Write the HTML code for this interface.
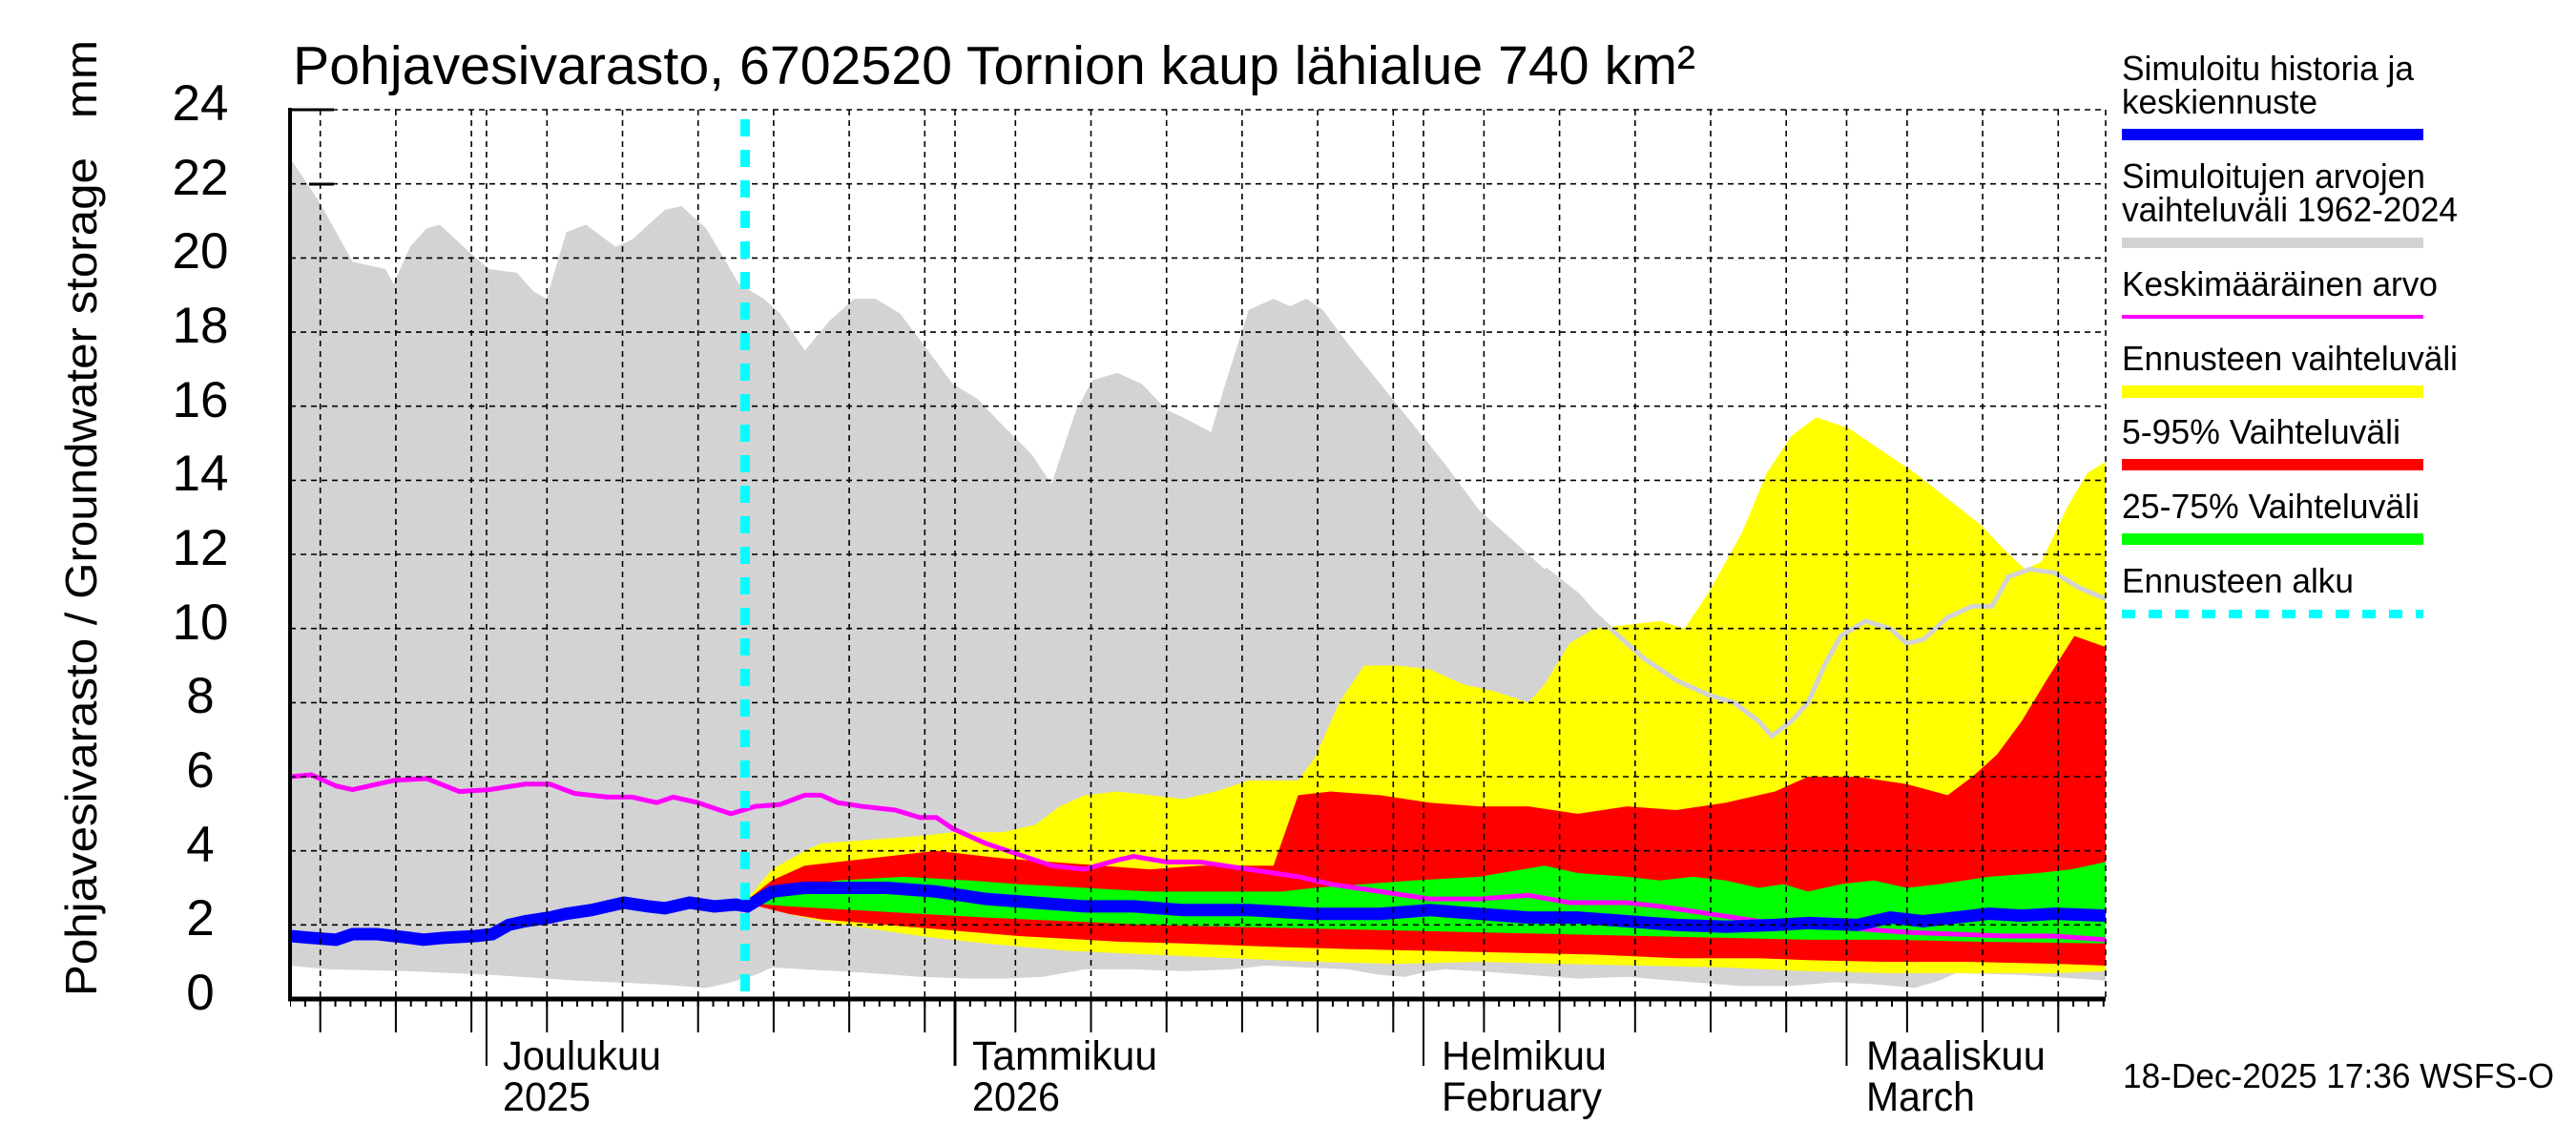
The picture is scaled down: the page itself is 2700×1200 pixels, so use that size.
<!DOCTYPE html>
<html><head><meta charset="utf-8"><style>
html,body{margin:0;padding:0;background:#fff;}
svg{display:block;}
text{font-family:"Liberation Sans",Arial,sans-serif;fill:#000;}
</style></head><body>
<svg width="2700" height="1200" viewBox="0 0 2700 1200" xmlns="http://www.w3.org/2000/svg">
<rect width="2700" height="1200" fill="#fff"/>
<g transform="matrix(1.7237 0 0 -38.83 -1.1 1047)">
<polygon fill="#d3d3d3" points="177,22.7 195,21.5 215,19.9 235,19.7 240,19.3 250,20.3 260,20.8 268,20.9 285,20.2 298,19.7 315,19.6 325,19.1 333,18.9 345,20.7 357,20.9 375,20.3 385,20.5 405,21.3 415,21.4 430,20.8 450,19.3 465,18.9 475,18.5 490,17.5 505,18.3 520,18.9 533,18.9 548,18.5 565,17.5 580,16.6 595,16.2 610,15.5 628,14.7 640,13.9 655,15.9 665,16.7 680,16.9 695,16.6 710,15.9 720,15.7 737,15.3 745,16.5 760,18.6 775,18.9 785,18.7 795,18.9 805,18.6 820,17.7 840,16.6 860,15.5 880,14.4 900,13.2 920,12.4 940,11.6 960,10.9 970,10.4 980,10 1000,9.2 1020,8.6 1040,8.2 1055,8.0 1070,7.5 1078,7.1 1090,7.5 1100,8.0 1110,9.0 1120,9.8 1135,10.2 1150,10.0 1160,9.6 1170,9.7 1185,10.3 1200,10.6 1212,10.6 1222,11.4 1235,11.6 1250,11.5 1265,11.1 1281,10.8 1281,0.5 1230,0.65 1190,0.7 1180,0.5 1165,0.3 1140,0.4 1115,0.45 1090,0.35 1060,0.35 1030,0.45 990,0.6 960,0.55 930,0.65 900,0.75 880,0.8 870,0.75 855,0.6 840,0.65 820,0.8 795,0.85 770,0.9 750,0.8 720,0.75 690,0.8 660,0.8 635,0.6 610,0.55 590,0.55 560,0.6 530,0.7 490,0.8 470,0.85 460,0.65 445,0.45 430,0.3 400,0.4 350,0.5 300,0.65 250,0.75 200,0.8 177,0.9"/>
<polygon fill="#ffff00" points="453,2.6 470,3.5 490,4.0 500,4.2 530,4.3 560,4.4 580,4.5 610,4.5 630,4.7 645,5.2 660,5.5 680,5.6 700,5.5 720,5.4 740,5.6 760,5.9 790,5.9 800,6.5 815,8.0 830,9.0 850,9.0 870,8.9 890,8.5 910,8.3 930,8.0 940,8.5 955,9.6 970,10.0 990,10.1 1010,10.2 1025,10.0 1040,11.0 1060,12.6 1075,14.2 1090,15.2 1105,15.7 1125,15.4 1145,14.8 1165,14.2 1185,13.5 1205,12.8 1220,12.1 1232,11.6 1242,11.8 1258,13.3 1270,14.2 1281,14.5 1281,0.75 1250,0.7 1200,0.7 1150,0.7 1100,0.75 1050,0.85 1000,0.9 950,0.95 900,1.0 850,0.95 800,1.0 750,1.1 700,1.2 650,1.3 600,1.5 560,1.7 530,1.9 500,2.1 480,2.3"/>
<polygon fill="#ff0000" points="453,2.6 470,3.2 490,3.6 510,3.7 530,3.8 550,3.9 570,4.0 590,3.9 610,3.8 640,3.7 670,3.6 700,3.5 730,3.6 760,3.6 775,3.6 790,5.5 810,5.6 840,5.5 870,5.3 900,5.2 930,5.2 960,5.0 990,5.2 1020,5.1 1050,5.3 1080,5.6 1100,6.0 1130,6.0 1160,5.8 1185,5.5 1200,6.0 1215,6.6 1230,7.5 1245,8.6 1262,9.8 1281,9.5 1281,0.9 1250,0.95 1200,1.0 1150,1.0 1100,1.05 1070,1.1 1020,1.1 970,1.2 920,1.25 870,1.3 820,1.35 780,1.4 720,1.5 680,1.55 620,1.7 580,1.85 540,2.0 500,2.15 480,2.3"/>
<polygon fill="#00ff00" points="453,2.6 480,3.0 510,3.2 550,3.3 590,3.2 620,3.1 660,3.0 700,2.9 740,2.9 780,2.9 800,3.0 830,3.1 860,3.2 900,3.3 940,3.6 960,3.4 990,3.3 1010,3.2 1030,3.3 1050,3.2 1070,3.0 1085,3.1 1100,2.9 1120,3.1 1140,3.2 1160,3.0 1180,3.1 1210,3.3 1240,3.4 1260,3.5 1281,3.7 1281,1.5 1200,1.55 1150,1.6 1100,1.6 1050,1.65 1000,1.7 950,1.75 900,1.8 850,1.85 800,1.9 750,1.95 700,2.0 650,2.1 600,2.2 560,2.3 520,2.4 480,2.5"/>
<polyline fill="none" stroke="#d3d3d3" stroke-width="5" vector-effect="non-scaling-stroke" points="940,11.6 960,10.9 970,10.4 980,10 1000,9.2 1020,8.6 1040,8.2 1055,8.0 1070,7.5 1078,7.1 1090,7.5 1100,8.0 1110,9.0 1120,9.8 1135,10.2 1150,10.0 1160,9.6 1170,9.7 1185,10.3 1200,10.6 1212,10.6 1222,11.4 1235,11.6 1250,11.5 1265,11.1 1281,10.8"/>
<polyline fill="none" stroke="#ff00ff" stroke-width="5" vector-effect="non-scaling-stroke" points="177,6.0 190,6.05 205,5.75 215,5.65 240,5.9 260,5.95 280,5.6 298,5.65 320,5.8 335,5.8 350,5.55 370,5.45 385,5.45 400,5.3 410,5.45 425,5.3 445,5.0 460,5.2 475,5.25 490,5.5 500,5.5 510,5.3 525,5.2 545,5.1 560,4.9 570,4.9 580,4.6 600,4.2 620,3.9 640,3.6 660,3.5 680,3.75 690,3.85 710,3.7 730,3.7 760,3.5 790,3.3 810,3.1 840,2.9 870,2.7 900,2.7 930,2.8 955,2.6 990,2.6 1010,2.5 1040,2.3 1070,2.1 1100,2.0 1130,1.9 1160,1.8 1190,1.75 1220,1.7 1250,1.7 1281,1.6"/>
<polyline fill="none" stroke="#0000ff" stroke-width="13" vector-effect="non-scaling-stroke" points="177,1.7 190,1.65 205,1.6 215,1.75 230,1.75 250,1.65 258,1.6 270,1.65 290,1.7 300,1.75 310,2.0 320,2.1 335,2.2 345,2.3 360,2.4 370,2.5 380,2.6 395,2.5 405,2.45 420,2.6 435,2.5 448,2.55 455,2.5 470,2.9 490,3.0 510,3.0 540,3.0 570,2.9 600,2.7 630,2.6 660,2.5 690,2.5 720,2.4 760,2.4 800,2.3 840,2.3 870,2.4 900,2.3 930,2.2 960,2.2 990,2.1 1020,2.0 1050,1.95 1080,2.0 1100,2.05 1130,2.0 1150,2.2 1170,2.1 1190,2.2 1210,2.3 1230,2.25 1250,2.3 1281,2.25"/>
</g>
<g stroke="#000" stroke-width="1.6" stroke-dasharray="6 5" fill="none">
<path d="M304 969.3H2207M304 891.7H2207M304 814H2207M304 736.4H2207M304 658.7H2207M304 581H2207M304 503.4H2207M304 425.7H2207M304 348.1H2207M304 270.4H2207M304 192.7H2207M304 115H2207"/>
<path d="M335.7 115V1047M414.9 115V1047M494.1 115V1047M509.9 115V1047M573.3 115V1047M652.5 115V1047M731.7 115V1047M810.9 115V1047M890.1 115V1047M969.3 115V1047M1001 115V1047M1064.3 115V1047M1143.5 115V1047M1222.7 115V1047M1301.9 115V1047M1381.1 115V1047M1460.3 115V1047M1492 115V1047M1555.4 115V1047M1634.6 115V1047M1713.8 115V1047M1793 115V1047M1872.2 115V1047M1935.5 115V1047M1998.9 115V1047M2078.1 115V1047M2157.3 115V1047M2207 115V1047"/>
</g>
<line x1="781" y1="125" x2="781" y2="1047" stroke="#00ffff" stroke-width="10" stroke-dasharray="18 14"/>
<g stroke="#000" fill="none">
<line x1="304" y1="113" x2="304" y2="1049" stroke-width="4"/>
<line x1="302" y1="1047" x2="2207" y2="1047" stroke-width="5"/>
<line x1="304" y1="115" x2="350" y2="115" stroke-width="3"/>
<line x1="324" y1="193" x2="350" y2="193" stroke-width="3"/>
<line x1="304" y1="1051" x2="2207" y2="1051" stroke-width="8" stroke-dasharray="2 13.84" stroke-dashoffset="1"/>
<path stroke-width="2" d="M335.7 1047V1082M414.9 1047V1082M494.1 1047V1082M573.3 1047V1082M652.5 1047V1082M731.7 1047V1082M810.9 1047V1082M890.1 1047V1082M969.3 1047V1082M1064.3 1047V1082M1143.5 1047V1082M1222.7 1047V1082M1301.9 1047V1082M1381.1 1047V1082M1460.3 1047V1082M1555.4 1047V1082M1634.6 1047V1082M1713.8 1047V1082M1793 1047V1082M1872.2 1047V1082M1998.9 1047V1082M2078.1 1047V1082M2157.3 1047V1082"/>
<path stroke-width="2" d="M509.9 1047V1117M1935.5 1047V1117M1492 1047V1117"/>
<path stroke-width="3" d="M1001 1047V1117"/>
</g>
<g font-size="53" text-anchor="middle">
<text x="210" y="126">24</text><text x="210" y="204">22</text><text x="210" y="281">20</text>
<text x="210" y="359">18</text><text x="210" y="437">16</text><text x="210" y="514">14</text>
<text x="210" y="592">12</text><text x="210" y="670">10</text><text x="210" y="747">8</text>
<text x="210" y="825">6</text><text x="210" y="903">4</text><text x="210" y="980">2</text>
<text x="210" y="1058">0</text>
</g>
<text transform="translate(101,1044) rotate(-90)" font-size="46" xml:space="preserve" style="white-space:pre" textLength="1002" lengthAdjust="spacingAndGlyphs">Pohjavesivarasto / Groundwater storage   mm</text>
<text x="307" y="88" font-size="57" textLength="1470" lengthAdjust="spacingAndGlyphs">Pohjavesivarasto, 6702520 Tornion kaup lähialue 740 km²</text>
<g font-size="43">
<text x="527" y="1121" textLength="166" lengthAdjust="spacingAndGlyphs">Joulukuu</text>
<text x="527" y="1164" textLength="92" lengthAdjust="spacingAndGlyphs">2025</text>
<text x="1019" y="1121" textLength="194" lengthAdjust="spacingAndGlyphs">Tammikuu</text>
<text x="1019" y="1164" textLength="92" lengthAdjust="spacingAndGlyphs">2026</text>
<text x="1511" y="1121" textLength="173" lengthAdjust="spacingAndGlyphs">Helmikuu</text>
<text x="1511" y="1164" textLength="168" lengthAdjust="spacingAndGlyphs">February</text>
<text x="1956" y="1121" textLength="188" lengthAdjust="spacingAndGlyphs">Maaliskuu</text>
<text x="1956" y="1164" textLength="114" lengthAdjust="spacingAndGlyphs">March</text>
</g>
<g font-size="36">
<text x="2224" y="84" textLength="306" lengthAdjust="spacingAndGlyphs">Simuloitu historia ja</text>
<text x="2224" y="119" textLength="205" lengthAdjust="spacingAndGlyphs">keskiennuste</text>
<text x="2224" y="197" textLength="318" lengthAdjust="spacingAndGlyphs">Simuloitujen arvojen</text>
<text x="2224" y="232" textLength="352" lengthAdjust="spacingAndGlyphs">vaihteluväli 1962-2024</text>
<text x="2224" y="310" textLength="331" lengthAdjust="spacingAndGlyphs">Keskimääräinen arvo</text>
<text x="2224" y="388" textLength="352" lengthAdjust="spacingAndGlyphs">Ennusteen vaihteluväli</text>
<text x="2224" y="465" textLength="292" lengthAdjust="spacingAndGlyphs">5-95% Vaihteluväli</text>
<text x="2224" y="543" textLength="312" lengthAdjust="spacingAndGlyphs">25-75% Vaihteluväli</text>
<text x="2224" y="621" textLength="243" lengthAdjust="spacingAndGlyphs">Ennusteen alku</text>
</g>
<rect x="2224" y="135" width="316" height="12" fill="#0000ff"/>
<rect x="2224" y="249" width="316" height="11" fill="#d3d3d3"/>
<rect x="2224" y="330" width="316" height="4" fill="#ff00ff"/>
<rect x="2224" y="404" width="316" height="13" fill="#ffff00"/>
<rect x="2224" y="481" width="316" height="12" fill="#ff0000"/>
<rect x="2224" y="559" width="316" height="12" fill="#00ff00"/>
<line x1="2224" y1="643.5" x2="2540" y2="643.5" stroke="#00ffff" stroke-width="9" stroke-dasharray="14 14"/>
<text x="2225" y="1140" font-size="36" textLength="452" lengthAdjust="spacingAndGlyphs">18-Dec-2025 17:36 WSFS-O</text>
</svg>
</body></html>
